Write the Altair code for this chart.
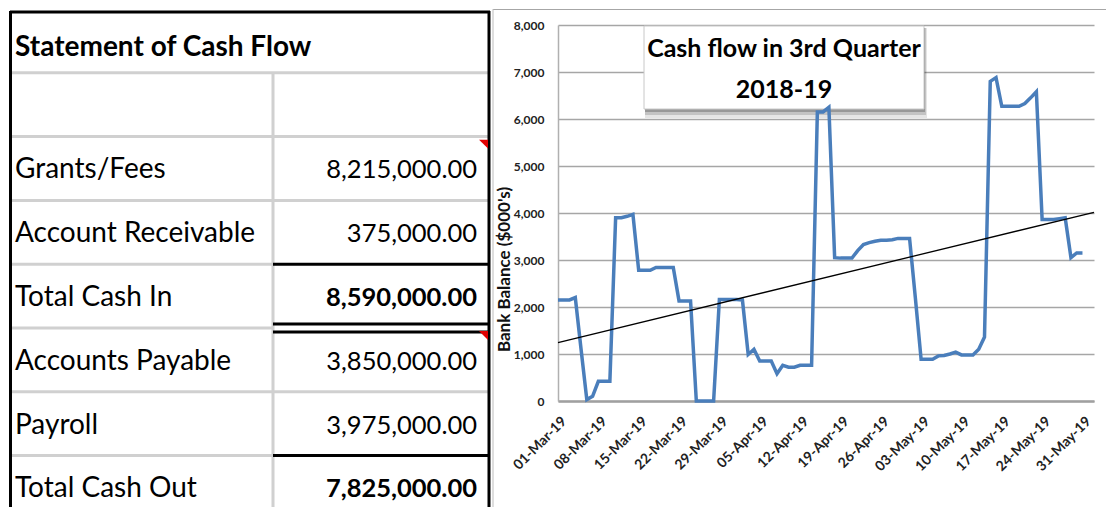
import altair as alt
import pandas as pd

FONT = "Lato"

# ---------------- table data ----------------
row_labels = ["Statement of Cash Flow", "", "Grants/Fees", "Account Receivable",
              "Total Cash In", "Accounts Payable", "Payroll", "Total Cash Out"]
row_values = [None, None, 8215000.00, 375000.00, 8590000.00, 3850000.00, 3975000.00, 7825000.00]
bold_values = [False, False, False, False, True, False, False, True]
comment_rows = [2, 5]

# ---------------- line chart data ----------------
start_day = "2019-03-01"
end_day = "2019-05-31"
balances = [
    2150, 2150, 2150, 2200, 1100, 30, 100, 420, 420, 420,
    3900, 3900, 3930, 3970, 2780, 2780, 2780, 2840, 2840, 2840,
    2840, 2130, 2130, 2130, 0, 0, 0, 0, 2160, 2160,
    2160, 2160, 2150, 990, 1100, 850, 850, 850, 580, 760,
    720, 720, 760, 760, 760, 6150, 6150, 6250, 3050, 3040,
    3040, 3040, 3200, 3330, 3370, 3400, 3420, 3420, 3430, 3460,
    3460, 3460, 2200, 890, 890, 890, 960, 970, 1000, 1040,
    980, 980, 980, 1100, 1360, 6800, 6880, 6270, 6270, 6270,
    6270, 6330, 6450, 6580, 3860, 3860, 3860, 3880, 3900, 3050,
    3150, 3150,
]
tick_dates = [(3, 1), (3, 8), (3, 15), (3, 22), (3, 29), (4, 5), (4, 12), (4, 19),
              (4, 26), (5, 3), (5, 10), (5, 17), (5, 24), (5, 31)]
y_ticks = [0, 1000, 2000, 3000, 4000, 5000, 6000, 7000, 8000]
title_lines = ["Cash flow in 3rd Quarter", "2018-19"]
y_title = "Bank Balance ($000's)"

# ================= TABLE =================
tdf = pd.DataFrame({"row": list(range(len(row_labels))), "label": row_labels,
                    "value": row_values, "bold": bold_values})
tdf["bottom"] = tdf["row"] + 1

ys = alt.Scale(domain=[0, 8], range=[0, 510.4], nice=False, zero=False)
TW, TH = 480, 498

tbase = alt.Chart(tdf)

title_txt = tbase.transform_filter("datum.row == 0").mark_text(
    align="left", baseline="alphabetic", dy=-17, font=FONT, fontSize=28,
    fontWeight="bold", color="black"
).encode(x=alt.value(6), y=alt.Y("bottom:Q", scale=ys, axis=None), text="label:N")

label_txt = tbase.transform_filter("datum.row > 0").mark_text(
    align="left", baseline="alphabetic", dy=-22, font=FONT, fontSize=28, color="black"
).encode(x=alt.value(6), y=alt.Y("bottom:Q", scale=ys, axis=None), text="label:N")

val_txt = tbase.transform_filter("datum.value != null && !datum.bold").mark_text(
    align="right", baseline="alphabetic", dy=-22, font=FONT, fontSize=25.5, color="black"
).encode(x=alt.value(468), y=alt.Y("bottom:Q", scale=ys, axis=None),
         text=alt.Text("value:Q", format=",.2f"))

valb_txt = tbase.transform_filter("datum.value != null && datum.bold").mark_text(
    align="right", baseline="alphabetic", dy=-22, font=FONT, fontSize=25.5,
    fontWeight="bold", color="black"
).encode(x=alt.value(468), y=alt.Y("bottom:Q", scale=ys, axis=None),
         text=alt.Text("value:Q", format=",.2f"))

GRAY = "#d0d0d0"
gray_label = alt.Chart(pd.DataFrame({"b": [1, 2, 3, 4, 5, 6, 7]})).mark_rule(
    color=GRAY, strokeWidth=3).encode(
    x=alt.value(1), x2=alt.value(264), y=alt.Y("b:Q", scale=ys, axis=None))
gray_value = alt.Chart(pd.DataFrame({"b": [1, 2, 3, 6]})).mark_rule(
    color=GRAY, strokeWidth=3).encode(
    x=alt.value(264), x2=alt.value(480), y=alt.Y("b:Q", scale=ys, axis=None))
black_value = alt.Chart(pd.DataFrame({"b": [4, 7]})).mark_rule(
    color="black", strokeWidth=3).encode(
    x=alt.value(264), x2=alt.value(480), y=alt.Y("b:Q", scale=ys, axis=None))
dbl_a = alt.Chart(pd.DataFrame({"b": [5]})).mark_rule(
    color="black", strokeWidth=3, yOffset=-4).encode(
    x=alt.value(264), x2=alt.value(480), y=alt.Y("b:Q", scale=ys, axis=None))
dbl_b = alt.Chart(pd.DataFrame({"b": [5]})).mark_rule(
    color="black", strokeWidth=3, yOffset=4).encode(
    x=alt.value(264), x2=alt.value(480), y=alt.Y("b:Q", scale=ys, axis=None))
divider = alt.Chart(pd.DataFrame({"b": [1]})).mark_rule(
    color=GRAY, strokeWidth=3).encode(
    x=alt.value(264), y=alt.Y("b:Q", scale=ys, axis=None), y2=alt.value(TH))

one = pd.DataFrame({"k": [0]})
top_border = alt.Chart(one).mark_rule(color="black", strokeWidth=3).encode(
    x=alt.value(1), x2=alt.value(481), y=alt.value(3))
left_border = alt.Chart(one).mark_rule(color="black", strokeWidth=3).encode(
    x=alt.value(1.5), y=alt.value(2), y2=alt.value(TH))
right_border = alt.Chart(one).mark_rule(color="black", strokeWidth=3).encode(
    x=alt.value(480), y=alt.value(2), y2=alt.value(TH))

comments = alt.Chart(pd.DataFrame({"row": comment_rows})).mark_point(
    shape="M -1 -1 L 1 -1 L 1 1 Z", filled=True, color="#e00000", opacity=1,
    size=80, yOffset=7.5).encode(
    x=alt.value(474.5), y=alt.Y("row:Q", scale=ys, axis=None))

table = alt.layer(
    gray_label, gray_value, divider, black_value, dbl_a, dbl_b,
    top_border, left_border, right_border, comments,
    title_txt, label_txt, val_txt, valb_txt
).properties(width=TW, height=TH)

# ================= LINE CHART =================
dates = pd.date_range(start_day, end_day, freq="D")
ldf = pd.DataFrame({"date": dates, "day": list(range(len(dates))), "balance": balances})

LW, LH = 536, 392
x_enc = alt.X(
    "date:T",
    scale=alt.Scale(domain=[alt.DateTime(year=2019, month=3, date=1),
                            alt.DateTime(year=2019, month=6, date=2)]),
    axis=alt.Axis(
        title=None, values=[alt.DateTime(year=2019, month=m, date=d) for m, d in tick_dates],
        format="%d-%b-%y", labelAngle=-45, labelAlign="right", labelBaseline="middle",
        labelPadding=18, labelOffset=6, ticks=False, grid=False, labelFont=FONT,
        labelFontSize=14, labelFontWeight="bold", labelColor="#222222",
        domainColor="#a0a0a0", domainWidth=2.5, labelOverlap=False,
    ),
)
y_enc = alt.Y(
    "balance:Q",
    scale=alt.Scale(domain=[0, 8000], range=[LH, 16], nice=False),
    axis=alt.Axis(
        title=y_title, values=y_ticks, format=",.0f", ticks=False, grid=True,
        gridColor="#a6a6a6", gridWidth=1.4, domainColor="#b0b0b0", domainWidth=1.5,
        labelFont=FONT, labelFontSize=12, labelFontWeight="bold", labelColor="#222222",
        labelPadding=14, titleFont=FONT, titleFontSize=17, titleFontWeight="bold",
        titleColor="#111111", titleX=-54, titleY=260, titleAngle=-90,
        titleAlign="center", titleBaseline="middle",
    ),
)

panel_top = alt.Chart(one).mark_rule(color="#a6a6a6", strokeWidth=1).encode(
    x=alt.value(-65), x2=alt.value(548), y=alt.value(0.5))
panel_left = alt.Chart(one).mark_rule(color="#bdbdbd", strokeWidth=1).encode(
    x=alt.value(-65), y=alt.value(0), y2=alt.value(TH))

shadow1 = alt.Chart(one).mark_rect(color="black", opacity=0.10).encode(
    x=alt.value(87), x2=alt.value(369), y=alt.value(19), y2=alt.value(109))
shadow2 = alt.Chart(one).mark_rect(color="black", opacity=0.15).encode(
    x=alt.value(87), x2=alt.value(368), y=alt.value(19), y2=alt.value(106))
shadow3 = alt.Chart(one).mark_rect(color="black", opacity=0.22).encode(
    x=alt.value(87), x2=alt.value(367), y=alt.value(19), y2=alt.value(103))
box = alt.Chart(one).mark_rect(color="white", stroke="#c8c8c8", strokeWidth=1).encode(
    x=alt.value(86), x2=alt.value(366), y=alt.value(17), y2=alt.value(100))
t1 = alt.Chart(one).mark_text(text=title_lines[0], font=FONT, fontSize=25,
                              fontWeight="bold", color="black", align="center",
                              baseline="alphabetic").encode(
    x=alt.value(226), y=alt.value(48))
t2 = alt.Chart(one).mark_text(text=title_lines[1], font=FONT, fontSize=25,
                              fontWeight="bold", color="black", align="center",
                              baseline="alphabetic").encode(
    x=alt.value(226), y=alt.value(88.5))

line = alt.Chart(ldf).mark_line(color="#4a7ebb", strokeWidth=3.5).encode(x=x_enc, y=y_enc)

trend = alt.Chart(ldf).transform_regression(
    "day", "balance", extent=[0, 93]
).transform_calculate(
    date="datetime(2019, 2, 1 + datum.day)"
).mark_line(color="black", strokeWidth=1.3).encode(x=x_enc, y=y_enc)

linechart = alt.layer(
    panel_top, panel_left, shadow1, shadow2, shadow3, box, t1, t2, line, trend
).properties(width=LW, height=LH)

chart = alt.hconcat(table, linechart, spacing=69, bounds="flush").properties(
    padding={"left": 0, "top": 0, "right": 0, "bottom": 0}
).configure_view(stroke=None)

chart.save("out.html", embed_options={"renderer": "svg", "actions": False})
